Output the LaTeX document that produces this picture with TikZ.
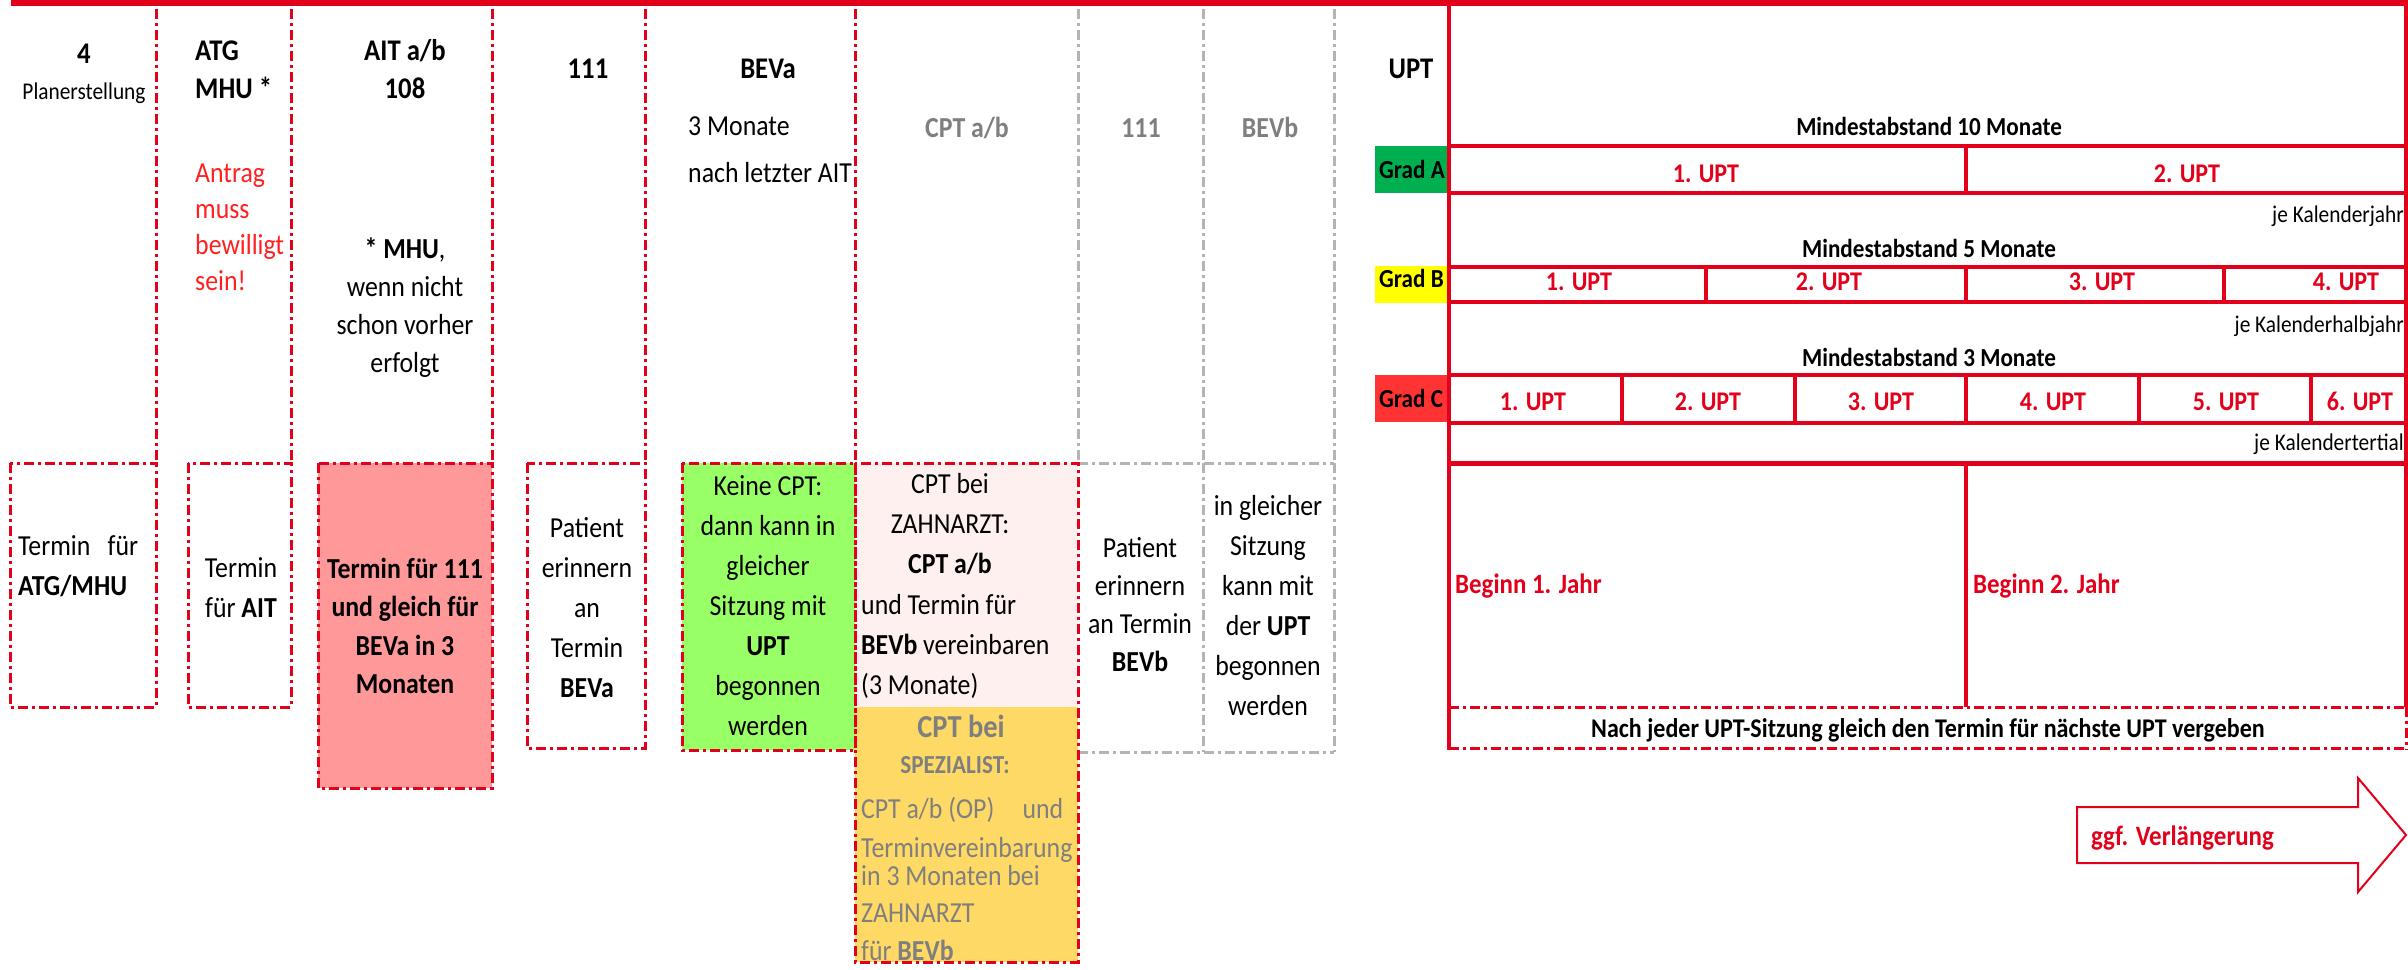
\documentclass[tikz,border=0pt]{standalone}
\usepackage{fontspec}
\setmainfont{Carlito}[FakeStretch=0.89]
\definecolor{lred}{HTML}{E2001A}
\definecolor{tred}{HTML}{FF2020}
\definecolor{pinkf}{HTML}{FF9999}
\definecolor{greenf}{HTML}{99FF66}
\definecolor{lpink}{HTML}{FFF0F0}
\definecolor{yel}{HTML}{FFD966}
\definecolor{gradA}{HTML}{00B050}
\definecolor{gradB}{HTML}{FFFF00}
\definecolor{gradC}{HTML}{FF3333}
\definecolor{gtxt}{HTML}{7F7F7F}
\definecolor{lgray}{HTML}{B4B4B4}
\newcommand\fsz[2]{\fontsize{#1}{#2}\selectfont}
\tikzset{
  ddot/.style={dash pattern=on 10pt off 4pt on 3pt off 4pt},
  rline/.style={draw=lred, line width=3pt, ddot},
  gdiv/.style={draw=lgray, line width=3pt, ddot},
  tline/.style={draw=lred, line width=3.5pt},
  tx/.style={inner sep=0pt, anchor=base},
  txw/.style={inner sep=0pt, anchor=base west},
  blk/.style={inner sep=0pt, anchor=base, align=flush center, text width=#1},
  blkl/.style={inner sep=0pt, anchor=base west, align=flush left, text width=#1},
  upt/.style={tx, text=lred, font=\fsz{27}{32}\bfseries},
  mind/.style={tx, font=\fsz{26}{30}\bfseries},
  kal/.style={inner sep=0pt, anchor=base east, font=\fsz{24}{28}},
  grad/.style={txw, font=\fsz{26}{28}\bfseries},
}
\begin{document}
\begin{tikzpicture}[x=1pt,y=-1pt]
\useasboundingbox (0,0) rectangle (2408,969);
% top bar
\fill[lred] (11,0) rectangle (2408,6);

% fills
\fill[pinkf] (318,463) rectangle (492,788);
\fill[greenf] (682,463) rectangle (855,750);
\fill[lpink] (855,463) rectangle (1078,707);
\fill[yel] (855,707) rectangle (1078,962);
\fill[gradA] (1375,146) rectangle (1448,193);
\fill[gradB] (1375,266) rectangle (1448,303);
\fill[gradC] (1375,375) rectangle (1448,422);

% header dividers
\foreach \x in {156,291,492,645,855} \draw[rline] (\x,9) -- (\x,463);
\foreach \x in {1078,1203,1334} \draw[gdiv] (\x,9) -- (\x,463);

% bottom boxes
\draw[rline] (10,463) rectangle (156,707);
\draw[rline] (188,463) rectangle (291,707);
\draw[rline] (318,463) rectangle (492,788);
\draw[rline] (527,463) rectangle (645,748);
\draw[rline] (682,463) rectangle (855,750);
\draw[gdiv] (1078,463) -- (1334,463);
\draw[gdiv] (1078,752) -- (1334,752);
\draw[gdiv] (1203,463) -- (1203,752);
\draw[gdiv] (1334,463) -- (1334,752);
\draw[rline] (855,463) rectangle (1078,962);

% UPT table
\draw[tline] (1449,6) -- (1449,750);
\draw[tline] (2406,6) -- (2406,707);
\draw[rline] (2406,707) -- (2406,750);
\foreach \y in {146,193,267,302,375,423} \draw[tline] (1449,\y) -- (2406,\y);
\draw[lred, line width=5pt] (1449,463) -- (2406,463);
\draw[tline] (1966,146) -- (1966,193);
\foreach \x in {1706,1966,2224} \draw[tline] (\x,267) -- (\x,302);
\foreach \x in {1622,1795,1966,2139,2311} \draw[tline] (\x,375) -- (\x,423);
\draw[tline] (1966,463) -- (1966,707);
\draw[rline] (1449,707) -- (2406,707);
\draw[rline] (1449,748) -- (2406,748);

% arrow
\draw[lred, line width=2pt, line join=miter] (2077,807) -- (2358,807) -- (2358,778) -- (2406,835) -- (2358,892) -- (2358,863) -- (2077,863) -- cycle;

% header texts
\node[tx, font=\fsz{30}{36}\bfseries] (h4) at (84,63) {4};
\node[tx, font=\fsz{24}{28}] (hplan) at (84,99) {Planerstellung};
\node[blkl=95, font=\fsz{30}{38}\bfseries] (hatg) at (195,60) {ATG\\MHU *};
\node[blkl=95, font=\fsz{29}{36}, text=tred] (hantrag) at (195,182) {Antrag\\muss\\bewilligt\\sein!};
\node[blk=190, font=\fsz{30}{38}\bfseries] (hait) at (405,60) {AIT a/b\\108};
\node[blk=190, font=\fsz{29}{38}] (hmhu) at (405,258) {\textbf{* MHU},\\wenn nicht\\schon vorher\\erfolgt};
\node[tx, font=\fsz{30}{36}\bfseries] (h111) at (588,78) {111};
\node[tx, font=\fsz{30}{36}\bfseries] (hbeva) at (768,78) {BEVa};
\node[blkl=260, font=\fsz{29}{47}] (hmon) at (688,135) {3 Monate\\nach letzter AIT};
\node[tx, font=\fsz{29}{36}\bfseries, text=gtxt] (hcpt) at (967,137) {CPT a/b};
\node[tx, font=\fsz{29}{36}\bfseries, text=gtxt] (hg111) at (1141,137) {111};
\node[tx, font=\fsz{29}{36}\bfseries, text=gtxt] (hbevb) at (1270,137) {BEVb};
\node[tx, font=\fsz{30}{36}\bfseries] (hupt) at (1411,78) {UPT};

% bottom box texts
\node[blkl=135, font=\fsz{29}{40}] (b1) at (18,555) {\hbox to 120pt{Termin\hfill für}\\\textbf{ATG/MHU}};
\node[blk=100, font=\fsz{29}{40}] (b2) at (241,577) {Termin\\für \textbf{AIT}};
\node[blk=172, font=\fsz{29}{38.5}\bfseries] (b3) at (405,578) {Termin für 111\\und gleich für\\BEVa in 3\\Monaten};
\node[blk=115, font=\fsz{29}{40}] (b4) at (587,537) {Patient\\erinnern\\an\\Termin\\\textbf{BEVa}};
\node[blk=170, font=\fsz{29}{40}] (b5) at (768,495) {Keine CPT:\\dann kann in\\gleicher\\Sitzung mit\\\textbf{UPT}\\begonnen\\werden};
\node[blk=180, font=\fsz{29}{40}] (b6a) at (950,493) {CPT bei\\ZAHNARZT:\\\textbf{CPT a/b}};
\node[blkl=215, font=\fsz{29}{40}] (b6b) at (861,614) {und Termin für\\\textbf{BEVb} vereinbaren\\(3 Monate)};
\begin{scope}
\clip (857,709) rectangle (1076,962);
\node[tx, font=\fsz{32}{36}\bfseries, text=gtxt] (b7a) at (961,737) {CPT bei};
\node[tx, font=\fsz{26}{30}\bfseries, text=gtxt] (b7b) at (955,773) {SPEZIALIST:};
\node[blkl=215, font=\fsz{29}{39}, text=gtxt] (b7c) at (861,818) {\hbox to 202pt{CPT a/b (OP)\hfill und}\\Terminvereinbarung};
\node[blkl=215, font=\fsz{29}{37.5}, text=gtxt] (b7d) at (861,885) {in 3 Monaten bei\\ZAHNARZT\\für \textbf{BEVb}};
\end{scope}
\node[blk=122, font=\fsz{29}{38.3}] (b8) at (1140,557) {Patient\\erinnern\\an Termin\\\textbf{BEVb}};
\node[blk=128, font=\fsz{29}{40}] (b9) at (1268,515) {in gleicher\\Sitzung\\kann mit\\der \textbf{UPT}\\begonnen\\werden};

% table texts
\node[mind] (m10) at (1929,135) {Mindestabstand 10 Monate};
\node[grad] (ga) at (1379,178) {Grad A};
\node[upt] (a1) at (1706,182) {1. UPT};
\node[upt] (a2) at (2187,182) {2. UPT};
\node[kal] (kj) at (2404,222) {je Kalenderjahr};
\node[mind] (m5) at (1929,257) {Mindestabstand 5 Monate};
\node[grad] (gb) at (1379,287) {Grad B};
\node[upt] (bb1) at (1579,290) {1. UPT};
\node[upt] (bb2) at (1829,290) {2. UPT};
\node[upt] (bb3) at (2102,290) {3. UPT};
\node[upt] (bb4) at (2346,290) {4. UPT};
\node[kal] (kh) at (2404,332) {je Kalenderhalbjahr};
\node[mind] (m3) at (1929,366) {Mindestabstand 3 Monate};
\node[grad] (gc) at (1379,407) {Grad C};
\node[upt] (c1) at (1533,410) {1. UPT};
\node[upt] (c2) at (1708,410) {2. UPT};
\node[upt] (c3) at (1881,410) {3. UPT};
\node[upt] (c4) at (2053,410) {4. UPT};
\node[upt] (c5) at (2226,410) {5. UPT};
\node[upt] (c6) at (2360,410) {6. UPT};
\node[kal] (kt) at (2404,450) {je Kalendertertial};
\node[txw, text=lred, font=\fsz{28}{32}\bfseries] (j1) at (1455,593) {Beginn 1. Jahr};
\node[txw, text=lred, font=\fsz{28}{32}\bfseries] (j2) at (1973,593) {Beginn 2. Jahr};
\node[tx, font=\fsz{27}{32}\bfseries] (nach) at (1928,737) {Nach jeder UPT-Sitzung gleich den Termin für nächste UPT vergeben};
\node[txw, text=lred, font=\fsz{28}{32}\bfseries] (ggf) at (2091,845) {ggf. Verlängerung};
\end{tikzpicture}
\end{document}
